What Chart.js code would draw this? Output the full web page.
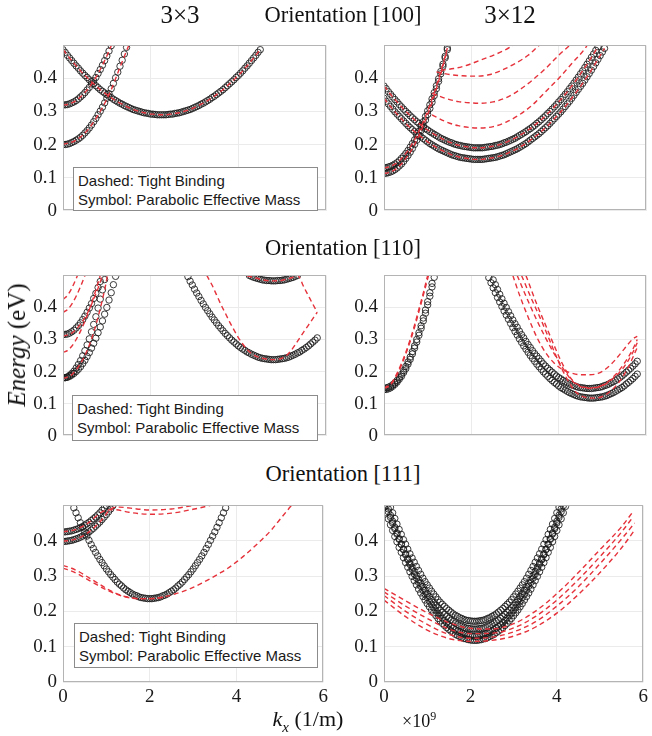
<!DOCTYPE html>
<html>
<head>
<meta charset="utf-8">
<script src="https://cdn.jsdelivr.net/npm/chart.js@4.4.0/dist/chart.umd.min.js"></script>
<style>
  body { margin: 0; background: #fff; }
  #fig { position: relative; width: 652px; height: 736px; overflow: hidden; font-family: "Liberation Serif", serif; color: #111; }
  #fig canvas { position: absolute; }
  .t { position: absolute; transform: translate(-50%, -50%); white-space: nowrap; }
  .leg { position: absolute; background: #fff; border: 1px solid #8c8c8c; box-sizing: border-box;
         font-family: "Liberation Sans", Arial, sans-serif; font-size: 15px; line-height: 19px;
         padding: 3px 0 0 4px; color: #1a1a1a; white-space: nowrap; }
</style>
</head>
<body>
<div id="fig">
  <canvas id="c0"></canvas><canvas id="c1"></canvas>
  <canvas id="c2"></canvas><canvas id="c3"></canvas>
  <canvas id="c4"></canvas><canvas id="c5"></canvas>

  <div class="t" style="left:180px;top:15px;font-size:25px">3×3</div>
  <div class="t" style="left:343px;top:15px;font-size:22.5px">Orientation [100]</div>
  <div class="t" style="left:510px;top:15px;font-size:25px">3×12</div>
  <div class="t" style="left:343px;top:248px;font-size:22.5px">Orientation [110]</div>
  <div class="t" style="left:343px;top:474px;font-size:22.5px">Orientation [111]</div>
  <div class="t" style="left:17px;top:345px;font-size:25px;transform:translate(-50%,-50%) rotate(-90deg)"><i>Energy</i> (eV)</div>
  <div class="t" style="left:308px;top:721px;font-size:22px"><i>k</i><sub style="font-size:15px"><i>x</i></sub> (1/m)</div>
  <div style="position:absolute;left:402px;top:709px;font-size:18px">×10<sup style="font-size:12px">9</sup></div>

  <div class="leg" style="left:73px;top:167px;width:245px;height:44px">Dashed: Tight Binding<br>Symbol: Parabolic Effective Mass</div>
  <div class="leg" style="left:72px;top:395px;width:246px;height:46px">Dashed: Tight Binding<br>Symbol: Parabolic Effective Mass</div>
  <div class="leg" style="left:74px;top:623px;width:244px;height:45px">Dashed: Tight Binding<br>Symbol: Parabolic Effective Mass</div>
</div>

<script>
// k grid (units of 1e9 1/m), one marker per grid point
const K = [0,0.05,0.1,0.15,0.2,0.25,0.3,0.35,0.4,0.45,0.5,0.55,0.6,0.65,0.7,0.75,0.8,0.85,0.9,0.95,
  1,1.05,1.1,1.15,1.2,1.25,1.3,1.35,1.4,1.45,1.5,1.55,1.6,1.65,1.7,1.75,1.8,1.85,1.9,1.95,
  2,2.05,2.1,2.15,2.2,2.25,2.3,2.35,2.4,2.45,2.5,2.55,2.6,2.65,2.7,2.75,2.8,2.85,2.9,2.95,
  3,3.05,3.1,3.15,3.2,3.25,3.3,3.35,3.4,3.45,3.5,3.55,3.6,3.65,3.7,3.75,3.8,3.85,3.9,3.95,
  4,4.05,4.1,4.15,4.2,4.25,4.3,4.35,4.4,4.45,4.5,4.55,4.6,4.65,4.7,4.75,4.8,4.85,4.9,4.95,
  5,5.05,5.1,5.15,5.2,5.25,5.3,5.35,5.4,5.45,5.5,5.55,5.6,5.65,5.7,5.75,5.8,5.85,5.9,5.95];
const yTicks = [0, 0.1, 0.2, 0.3, 0.4];
const xTicks = [0, 2, 4, 6];

// ---- [100] 3x3 ----
const pem100s_a = { from: 0, y: [0.2,0.2,0.201,0.203,0.206,0.209,0.213,0.217,0.222,0.228,0.235,0.242,0.25,0.259,0.269,
  0.279,0.29,0.301,0.313,0.326,0.34,0.354,0.369,0.385,0.402,0.419,0.437,0.455,0.474,0.494] };
const pem100s_b = { from: 0, y: [0.32,0.32,0.321,0.323,0.326,0.329,0.333,0.338,0.344,0.35,0.357,0.365,0.373,0.383,0.393,
  0.403,0.415,0.427,0.44,0.454,0.468,0.483,0.499] };
const pem100s_c = { from: 0, y: [0.487,0.479,0.47,0.462,0.454,0.446,0.438,0.431,0.423,0.416,0.409,0.403,0.396,0.39,0.384,
  0.378,0.372,0.366,0.361,0.356,0.351,0.346,0.342,0.337,0.333,0.329,0.325,0.322,0.318,0.315,0.312,0.309,0.306,0.304,0.302,
  0.3,0.298,0.296,0.295,0.294,0.292,0.292,0.291,0.29,0.29,0.29,
  0.29,0.29,0.291,0.292,0.292,0.294,0.295,0.296,0.298,0.3,0.302,0.304,0.306,0.309,0.312,0.315,0.318,0.322,0.325,0.329,
  0.333,0.337,0.342,0.346,0.351,0.356,0.361,0.366,0.372,0.378,0.384,0.39,0.396,0.403,0.409,0.416,0.423,0.431,0.438,0.446,
  0.454,0.462,0.47,0.479,0.487] };
const tb100s_a = [[0,0.2],[0.3,0.213],[0.6,0.25],[0.9,0.312],[1.1,0.366],[1.3,0.434],[1.5,0.5]];

// ---- [100] 3x12 ----
const pem100l_a = { from: 0, y: [0.13,0.13,0.132,0.134,0.137,0.141,0.145,0.151,0.158,0.165,0.173,0.182,0.192,0.203,0.214,
  0.227,0.24,0.254,0.269,0.285,0.302,0.32,0.338,0.357,0.378,0.399,0.421,0.443,0.467,0.492] };
const pem100l_b = { from: 0, y: [0.113,0.113,0.115,0.117,0.12,0.124,0.129,0.135,0.141,0.149,0.158,0.167,0.177,0.188,0.2,
  0.213,0.227,0.242,0.257,0.274,0.291,0.309,0.328,0.348,0.369,0.391,0.414,0.437,0.462,0.487] };
const pem100l_c = { from: 0, y: [0.377,0.369,0.36,0.352,0.344,0.336,0.329,0.321,0.314,0.307,0.3,0.294,0.287,0.281,0.275,
  0.269,0.264,0.258,0.253,0.248,0.244,0.239,0.235,0.231,0.227,0.223,0.219,0.216,0.213,0.21,0.207,0.205,0.202,0.2,0.198,
  0.197,0.195,0.194,0.193,0.192,0.191,0.19,0.19,0.19,
  0.19,0.19,0.191,0.192,0.193,0.194,0.195,0.197,0.198,0.2,0.202,0.205,0.207,0.21,0.213,0.216,0.219,0.223,0.227,0.231,
  0.235,0.239,0.244,0.248,0.253,0.258,0.264,0.269,0.275,0.281,0.287,0.294,0.3,0.307,0.314,0.321,0.329,0.336,0.344,0.352,
  0.36,0.369,0.377,0.386,0.395,0.404,0.414,0.423,0.433,0.443,0.453,0.464,0.474,0.485,0.496] };
const pem100l_d = { from: 0, y: [0.34,0.331,0.323,0.315,0.307,0.299,0.292,0.285,0.278,0.271,0.264,0.257,0.251,0.245,0.239,
  0.233,0.228,0.223,0.218,0.213,0.208,0.203,0.199,0.195,0.191,0.187,0.184,0.181,0.178,0.175,0.172,0.169,0.167,0.165,0.163,
  0.161,0.16,0.159,0.158,0.157,0.156,0.155,0.155,0.155,
  0.155,0.155,0.156,0.157,0.158,0.159,0.16,0.161,0.163,0.165,0.167,0.169,0.172,0.175,0.178,0.181,0.184,0.187,0.191,0.195,
  0.199,0.203,0.208,0.213,0.218,0.223,0.228,0.233,0.239,0.245,0.251,0.257,0.264,0.271,0.278,0.285,0.292,0.299,0.307,0.315,
  0.323,0.331,0.34,0.349,0.358,0.367,0.376,0.385,0.395,0.405,0.415,0.425,0.436,0.447,0.458,0.469,0.48,0.491] };
const tb100l_e1 = [[1.1,0.29],[1.4,0.27],[1.7,0.257],[2.0,0.251],[2.2,0.25],[2.5,0.254],[2.8,0.268],[3.1,0.29],[3.4,0.32],[3.7,0.36],[4.0,0.4],[4.3,0.445],[4.6,0.49],[4.65,0.5]];
const tb100l_e2 = [[1.1,0.355],[1.4,0.34],[1.7,0.33],[2.0,0.326],[2.2,0.325],[2.5,0.329],[2.8,0.342],[3.1,0.365],[3.4,0.395],[3.7,0.43],[4.0,0.47],[4.25,0.5]];
const tb100l_e3 = [[1.2,0.42],[1.5,0.412],[1.8,0.408],[2.1,0.407],[2.4,0.411],[2.7,0.425],[3.0,0.445],[3.3,0.47],[3.55,0.5]];
const tb100l_e4 = [[1.3,0.425],[1.6,0.43],[1.9,0.44],[2.2,0.455],[2.5,0.47],[2.8,0.488],[2.95,0.5]];

// ---- [110] 3x3 ----
const pem110s_a = { from: 0, y: [0.315,0.316,0.317,0.32,0.324,0.329,0.336,0.343,0.352,0.362,0.373,0.385,0.398,0.412,0.428,
  0.444,0.462,0.481] };
const pem110s_b = { from: 0, y: [0.18,0.181,0.183,0.188,0.194,0.201,0.211,0.222,0.234,0.249,0.265,0.283,0.302,0.324,0.347,
  0.371,0.398,0.426,0.455,0.487] };
const pem110s_c = { from: 0, y: [0.18,0.181,0.182,0.185,0.189,0.194,0.2,0.207,0.215,0.225,0.235,0.247,0.259,0.273,0.288,
  0.304,0.321,0.339,0.358,0.379,0.4,0.423,0.446,0.471,0.497] };
const pem110s_d = { from: 2.85, y: [0.496,0.482,0.47,0.457,0.445,0.434,0.422,0.411,0.4,0.39,0.38,0.37,0.361,0.352,0.343,
  0.335,0.327,0.319,0.312,0.305,0.298,0.292,0.286,0.28,0.275,0.27,0.266,0.261,0.258,0.254,0.251,0.248,0.245,0.243,0.241,
  0.24,0.239,0.238,0.237,0.237,
  0.237,0.238,0.239,0.24,0.241,0.243,0.245,0.248,0.251,0.254,0.258,0.261,0.266,0.27,0.275,0.28,0.286,0.292,0.298,0.305] };
const pem110s_e = { from: 4.25, y: [0.5,0.497,0.494,0.492,0.49,0.488,0.486,0.485,0.484,0.484,0.483,0.483,
  0.483,0.484,0.484,0.485,0.486,0.488,0.49,0.492,0.494,0.497,0.5] };
const tb110s_1 = [[0,0.425],[0.1,0.437],[0.2,0.46],[0.3,0.49],[0.33,0.5]];
const tb110s_2 = [[0,0.385],[0.1,0.393],[0.2,0.41],[0.3,0.435],[0.4,0.465],[0.5,0.5]];
const tb110s_3 = [[0,0.26],[0.1,0.265],[0.2,0.279],[0.3,0.3],[0.4,0.326],[0.5,0.357],[0.6,0.393],[0.7,0.433],[0.8,0.477],[0.85,0.5]];
const tb110s_4 = [[0,0.31],[0.2,0.32],[0.4,0.348],[0.5,0.368],[0.6,0.394],[0.7,0.425],[0.8,0.46],[0.9,0.5]];
const tb110s_5 = [[0,0.178],[0.2,0.19],[0.4,0.225],[0.5,0.25],[0.6,0.282],[0.7,0.322],[0.8,0.37],[0.9,0.425],[1.0,0.49],[1.01,0.5]];
const tb110s_6 = [[3.28,0.5],[3.4,0.47],[3.5,0.44],[3.6,0.41],[3.7,0.383],[3.8,0.355],[3.9,0.33],[4.0,0.306],[4.1,0.286],[4.2,0.269],
  [4.3,0.256],[4.4,0.248],[4.5,0.243],[4.6,0.24],[4.7,0.238],[4.8,0.237],[4.9,0.238],[5.0,0.242],[5.1,0.25],[5.2,0.265],
  [5.3,0.284],[5.4,0.305],[5.5,0.325],[5.6,0.345],[5.7,0.365],[5.8,0.385]];
const tb110s_7 = [[4.2,0.499],[4.4,0.492],[4.6,0.485],[4.8,0.483],[5.0,0.485],[5.2,0.492],[5.35,0.5],[5.5,0.462],[5.6,0.436],[5.7,0.41],[5.8,0.385]];

// ---- [110] 3x12 ----
const pem110l_a = { from: 0, y: [0.148,0.149,0.151,0.154,0.159,0.165,0.172,0.181,0.191,0.203,0.216,0.23,0.245,0.262,0.28,
  0.3,0.321,0.343,0.367,0.392,0.418,0.446,0.475] };
const pem110l_b = { from: 0, y: [0.143,0.144,0.146,0.149,0.154,0.16,0.167,0.176,0.185,0.197,0.209,0.223,0.238,0.255,0.273,
  0.292,0.313,0.335,0.358,0.382,0.408,0.435,0.464,0.494] };
const pem110l_c = { from: 2.5, y: [0.486,0.471,0.456,0.441,0.427,0.413,0.4,0.387,0.374,0.361,0.349,0.338,0.326,0.315,0.305,
  0.294,0.284,0.275,0.265,0.256,0.248,0.24,0.232,0.224,0.217,0.21,0.204,0.198,0.192,0.186,0.181,0.177,0.172,0.168,0.165,
  0.161,0.158,0.156,0.153,0.151,0.15,0.149,0.148,0.147,0.147,
  0.147,0.148,0.149,0.15,0.151,0.153,0.156,0.158,0.161,0.165,0.168,0.172,0.177,0.181,0.186,0.192,0.198,0.204,0.21,0.217,
  0.224,0.232] };
const pem110l_d = { from: 2.4, y: [0.493,0.477,0.461,0.446,0.431,0.417,0.403,0.389,0.376,0.363,0.35,0.337,0.325,0.314,0.302,
  0.291,0.28,0.27,0.26,0.25,0.241,0.232,0.223,0.215,0.207,0.199,0.192,0.185,0.178,0.172,0.166,0.161,0.155,0.15,0.146,
  0.142,0.138,0.134,0.131,0.128,0.125,0.123,0.121,0.12,0.119,0.118,0.117,0.117,
  0.117,0.118,0.119,0.12,0.121,0.123,0.125,0.128,0.131,0.134,0.138,0.142,0.146,0.15,0.155,0.161,0.166,0.172,0.178,0.185,0.192] };
const tb110l_1 = [[0,0.15],[0.1,0.155],[0.2,0.17],[0.3,0.195],[0.4,0.225],[0.5,0.26],[0.6,0.3],[0.7,0.345],[0.8,0.395],[0.9,0.445],[1.0,0.5]];
const tb110l_2 = [[0,0.148],[0.1,0.153],[0.2,0.167],[0.3,0.19],[0.4,0.22],[0.5,0.255],[0.6,0.294],[0.7,0.338],[0.8,0.387],[0.9,0.438],[1.02,0.5]];
const tb110l_3 = [[2.95,0.5],[3.1,0.44],[3.3,0.37],[3.5,0.307],[3.7,0.259],[3.9,0.226],[4.1,0.205],[4.3,0.195],[4.5,0.19],[4.7,0.19],[4.9,0.194],[5.1,0.21],[5.3,0.237],[5.5,0.27],[5.7,0.302],[5.8,0.31]];
const tb110l_4 = [[3.05,0.5],[3.3,0.42],[3.5,0.36],[3.7,0.305],[3.9,0.255],[4.1,0.21],[4.3,0.172],[4.5,0.153],[4.7,0.148],[4.9,0.151],[5.1,0.163],[5.3,0.185],[5.5,0.215],[5.7,0.26],[5.8,0.29]];
const tb110l_5 = [[3.15,0.5],[3.4,0.42],[3.6,0.36],[3.8,0.295],[4.0,0.23],[4.2,0.175],[4.4,0.135],[4.6,0.12],[4.8,0.117],[5.0,0.122],[5.2,0.14],[5.4,0.17],[5.6,0.215],[5.8,0.275]];
const tb110l_6 = [[3.25,0.5],[3.5,0.41],[3.7,0.345],[3.9,0.28],[4.1,0.22],[4.3,0.175],[4.5,0.155],[4.7,0.149],[4.9,0.152],[5.1,0.165],[5.3,0.19],[5.5,0.225],[5.7,0.27],[5.8,0.3]];

// ---- [111] 3x3 ----
const pem111s_a = { from: 0, y: [0.425,0.425,0.426,0.427,0.428,0.43,0.432,0.434,0.437,0.44,0.444,0.448,0.452,0.457,0.462,
  0.467,0.473,0.479,0.486,0.493,0.5] };
const pem111s_b = { from: 0, y: [0.398,0.398,0.399,0.4,0.401,0.403,0.405,0.407,0.41,0.413,0.417,0.421,0.425,0.43,0.435,
  0.441,0.447,0.453,0.46,0.467,0.474,0.482,0.49,0.499] };
const pem111s_c = { from: 0.25, y: [0.493,0.479,0.465,0.451,0.438,0.425,0.413,0.401,0.389,0.378,0.367,0.357,0.347,0.338,0.329,
  0.32,0.312,0.304,0.297,0.29,0.283,0.277,0.272,0.266,0.261,0.257,0.253,0.249,0.246,0.244,0.241,0.239,0.238,0.237,0.236,0.236,
  0.236,0.237,0.238,0.239,0.241,0.244,0.246,0.249,0.253,0.257,0.261,0.266,0.272,0.277,0.283,0.29,0.297,0.304,0.312,0.32,
  0.329,0.338,0.347,0.357,0.367,0.378,0.389,0.401,0.413,0.425,0.438,0.451,0.465,0.479,0.493] };
const tb111s_1 = [[0,0.33],[0.2,0.322],[0.4,0.31],[0.6,0.295],[0.8,0.28],[1.0,0.265],[1.2,0.252],[1.4,0.243],[1.6,0.238],[1.8,0.236],
  [2.0,0.236],[2.2,0.238],[2.4,0.243],[2.6,0.25],[2.8,0.258],[3.0,0.268],[3.2,0.28],[3.4,0.293],[3.6,0.307],[3.8,0.322],
  [4.0,0.34],[4.2,0.36],[4.4,0.382],[4.6,0.405],[4.8,0.43],[5.0,0.46],[5.2,0.49],[5.27,0.5]];
const tb111s_2 = [[0,0.322],[0.2,0.314],[0.4,0.302],[0.6,0.288],[0.8,0.274],[1.0,0.261],[1.2,0.25],[1.4,0.242],[1.6,0.237],[1.8,0.236],[2.0,0.236],[2.2,0.238],[2.4,0.242]];
const tb111s_3 = [[0,0.425],[0.3,0.432],[0.6,0.452],[0.9,0.482],[1.2,0.488],[1.5,0.481],[2.0,0.475],[2.5,0.478],[3.0,0.489],[3.4,0.5]];
const tb111s_4 = [[0,0.398],[0.3,0.405],[0.6,0.425],[0.9,0.46],[1.1,0.49],[1.3,0.495],[1.7,0.49],[2.0,0.487],[2.5,0.49],[3.0,0.5]];

// ---- [111] 3x12 ----
const pem111l_a = { from: 0.15, y: [0.495,0.479,0.463,0.447,0.432,0.418,0.403,0.39,0.376,0.363,0.351,0.339,0.327,0.316,0.305,
  0.294,0.284,0.275,0.266,0.257,0.249,0.241,0.233,0.226,0.22,0.214,0.208,0.203,0.198,0.193,0.189,0.186,0.182,0.18,0.177,
  0.175,0.174,0.173,0.172,0.172,
  0.172,0.173,0.174,0.175,0.177,0.18,0.182,0.186,0.189,0.193,0.198,0.203,0.208,0.214,0.22,0.226,0.233,0.241,0.249,0.257,
  0.266,0.275,0.284,0.294,0.305,0.316,0.327,0.339,0.351,0.363,0.376,0.39,0.403,0.418,0.432,0.447,0.463,0.479,0.495] };
const pem111l_b = { from: 0.05, y: [0.499,0.482,0.466,0.45,0.434,0.419,0.404,0.39,0.376,0.363,0.349,0.337,0.325,0.313,0.301,
  0.29,0.28,0.27,0.26,0.25,0.242,0.233,0.225,0.217,0.21,0.203,0.197,0.191,0.185,0.18,0.175,0.171,0.167,0.163,0.16,
  0.158,0.155,0.153,0.152,0.151,0.15,0.15,
  0.15,0.151,0.152,0.153,0.155,0.158,0.16,0.163,0.167,0.171,0.175,0.18,0.185,0.191,0.197,0.203,0.21,0.217,0.225,0.233,
  0.242,0.25,0.26,0.27,0.28,0.29,0.301,0.313,0.325,0.337,0.349,0.363,0.376,0.39,0.404,0.419,0.434,0.45,0.466,0.482,0.499] };
const pem111l_c = { from: 0.1, y: [0.49,0.472,0.455,0.438,0.422,0.406,0.39,0.375,0.36,0.346,0.333,0.319,0.306,0.294,0.282,
  0.271,0.26,0.249,0.239,0.229,0.22,0.211,0.203,0.195,0.188,0.181,0.174,0.168,0.162,0.157,0.153,0.148,0.144,0.141,0.138,
  0.136,0.134,0.132,0.131,0.13,0.13,
  0.13,0.131,0.132,0.134,0.136,0.138,0.141,0.144,0.148,0.153,0.157,0.162,0.168,0.174,0.181,0.188,0.195,0.203,0.211,0.22,
  0.229,0.239,0.249,0.26,0.271,0.282,0.294,0.306,0.319,0.333,0.346,0.36,0.375,0.39,0.406,0.422,0.438,0.455,0.472,0.49] };
const pem111l_d = { from: 0, y: [0.497,0.479,0.462,0.445,0.429,0.412,0.397,0.381,0.367,0.352,0.338,0.325,0.312,0.299,0.287,
  0.275,0.263,0.252,0.242,0.232,0.222,0.213,0.204,0.196,0.188,0.18,0.173,0.166,0.16,0.154,0.149,0.144,0.14,0.135,0.132,
  0.129,0.126,0.123,0.122,0.12,0.119,0.118,0.118,
  0.118,0.119,0.12,0.122,0.123,0.126,0.129,0.132,0.135,0.14,0.144,0.149,0.154,0.16,0.166,0.173,0.18,0.188,0.196,0.204,
  0.213,0.222,0.232,0.242,0.252,0.263,0.275,0.287,0.299,0.312,0.325,0.338,0.352,0.367,0.381,0.397,0.412,0.429,0.445,0.462,
  0.479,0.497] };
const tb111l_1 = [[0,0.265],[0.5,0.23],[1.0,0.196],[1.5,0.168],[2.0,0.152],[2.5,0.15],[3.0,0.165],[3.5,0.2],[4.0,0.25],[4.5,0.31],[5.0,0.375],[5.5,0.44],[5.75,0.48]];
const tb111l_2 = [[0,0.255],[0.5,0.215],[1.0,0.18],[1.5,0.15],[2.0,0.137],[2.5,0.138],[3.0,0.153],[3.5,0.185],[4.0,0.232],[4.5,0.29],[5.0,0.355],[5.5,0.425],[5.75,0.465]];
const tb111l_3 = [[0,0.245],[0.5,0.2],[1.0,0.163],[1.5,0.135],[2.0,0.124],[2.5,0.127],[3.0,0.142],[3.5,0.17],[4.0,0.215],[4.5,0.27],[5.0,0.335],[5.5,0.405],[5.8,0.45]];
const tb111l_4 = [[0,0.232],[0.5,0.185],[1.0,0.147],[1.5,0.123],[2.0,0.115],[2.5,0.118],[3.0,0.13],[3.5,0.155],[4.0,0.195],[4.5,0.248],[5.0,0.31],[5.5,0.38],[5.8,0.43]];

// ---------------------------------------------------------------
const onGrid = s => { const i0 = K.indexOf(s.from); return s.y.map((v, i) => ({ x: K[i0 + i], y: v })); };
const fromPairs = p => p.map(([x, y]) => ({ x, y }));

const dashed = pts => ({
  data: pts, showLine: true, borderColor: '#e5323b', borderWidth: 1.4, borderDash: [5, 3.5],
  pointRadius: 0, cubicInterpolationMode: 'monotone', order: 0
});
const circles = pts => ({
  data: pts, showLine: false, pointRadius: 3.2, pointBorderWidth: 1,
  pointBorderColor: 'rgba(25,25,25,0.85)', pointBackgroundColor: 'rgba(0,0,0,0)', order: 1
});

const panels = [
  { id: 'c0', L: 63, T: 32, W: 263, H: 194, bottom: false,
    tb: [tb100s_a, onGrid(pem100s_b), onGrid(pem100s_c)],
    pem: [pem100s_a, pem100s_b, pem100s_c] },
  { id: 'c1', L: 384, T: 32, W: 262, H: 194, bottom: false,
    tb: [onGrid(pem100l_a), onGrid(pem100l_b), onGrid(pem100l_c), onGrid(pem100l_d), tb100l_e1, tb100l_e2, tb100l_e3, tb100l_e4],
    pem: [pem100l_a, pem100l_b, pem100l_c, pem100l_d] },
  { id: 'c2', L: 63, T: 262, W: 263, H: 189, bottom: false,
    tb: [tb110s_1, tb110s_2, tb110s_3, tb110s_4, tb110s_5, tb110s_6, tb110s_7],
    pem: [pem110s_a, pem110s_b, pem110s_c, pem110s_d, pem110s_e] },
  { id: 'c3', L: 384, T: 262, W: 262, H: 189, bottom: false,
    tb: [tb110l_1, tb110l_2, tb110l_3, tb110l_4, tb110l_5, tb110l_6],
    pem: [pem110l_a, pem110l_b, pem110l_c, pem110l_d] },
  { id: 'c4', L: 63, T: 492, W: 263, H: 190, bottom: true,
    tb: [tb111s_1, tb111s_2, tb111s_3, tb111s_4],
    pem: [pem111s_a, pem111s_b, pem111s_c] },
  { id: 'c5', L: 384, T: 492, W: 262, H: 190, bottom: true,
    tb: [tb111l_1, tb111l_2, tb111l_3, tb111l_4],
    pem: [pem111l_a, pem111l_b, pem111l_c, pem111l_d] }
];

const boxPlugin = {
  id: 'box',
  afterDatasetsDraw(chart) {
    const { ctx, chartArea: a } = chart;
    ctx.save();
    ctx.strokeStyle = '#b4b4b4';
    ctx.lineWidth = 1;
    ctx.strokeRect(Math.round(a.left) + 0.5, Math.round(a.top) + 0.5,
                   Math.round(a.right - a.left) - 1, Math.round(a.bottom - a.top) - 1);
    ctx.restore();
  }
};

Chart.defaults.font.family = '"Liberation Serif", serif';
Chart.defaults.font.size = 19;
Chart.defaults.color = '#1a1a1a';

const YW = 56, PT = 4, PR = 6;
panels.forEach(p => {
  const xh = p.bottom ? 28 : 0;
  const cv = document.getElementById(p.id);
  cv.width = YW + p.W + PR;
  cv.height = PT + p.H + xh + (p.bottom ? 0 : 2);
  cv.style.left = (p.L - YW) + 'px';
  cv.style.top = (p.T - PT) + 'px';

  const datasets = [];
  p.tb.forEach(s => datasets.push(dashed(Array.isArray(s[0]) ? fromPairs(s) : s)));
  p.pem.forEach(s => datasets.push(circles(onGrid(s))));

  new Chart(cv.getContext('2d'), {
    type: 'scatter',
    data: { datasets },
    options: {
      responsive: false,
      animation: false,
      events: [],
      devicePixelRatio: 1,
      layout: { padding: { top: PT, right: PR, left: 0, bottom: p.bottom ? 0 : 2 } },
      plugins: { legend: { display: false }, tooltip: { enabled: false } },
      scales: {
        x: {
          type: 'linear', min: 0, max: 6,
          afterBuildTicks: s => { s.ticks = xTicks.map(v => ({ value: v })); },
          afterFit: s => { s.height = xh; },
          grid: { color: '#ebebeb', drawTicks: false },
          border: { display: false },
          ticks: { display: p.bottom, padding: 4, maxRotation: 0 }
        },
        y: {
          type: 'linear', min: 0, max: 0.5,
          afterBuildTicks: s => { s.ticks = yTicks.map(v => ({ value: v })); },
          afterFit: s => { s.width = YW; },
          grid: { color: '#ebebeb', drawTicks: false },
          border: { display: false },
          ticks: { padding: 6, callback: v => String(v) }
        }
      }
    },
    plugins: [boxPlugin]
  });
});
</script>
</body>
</html>
